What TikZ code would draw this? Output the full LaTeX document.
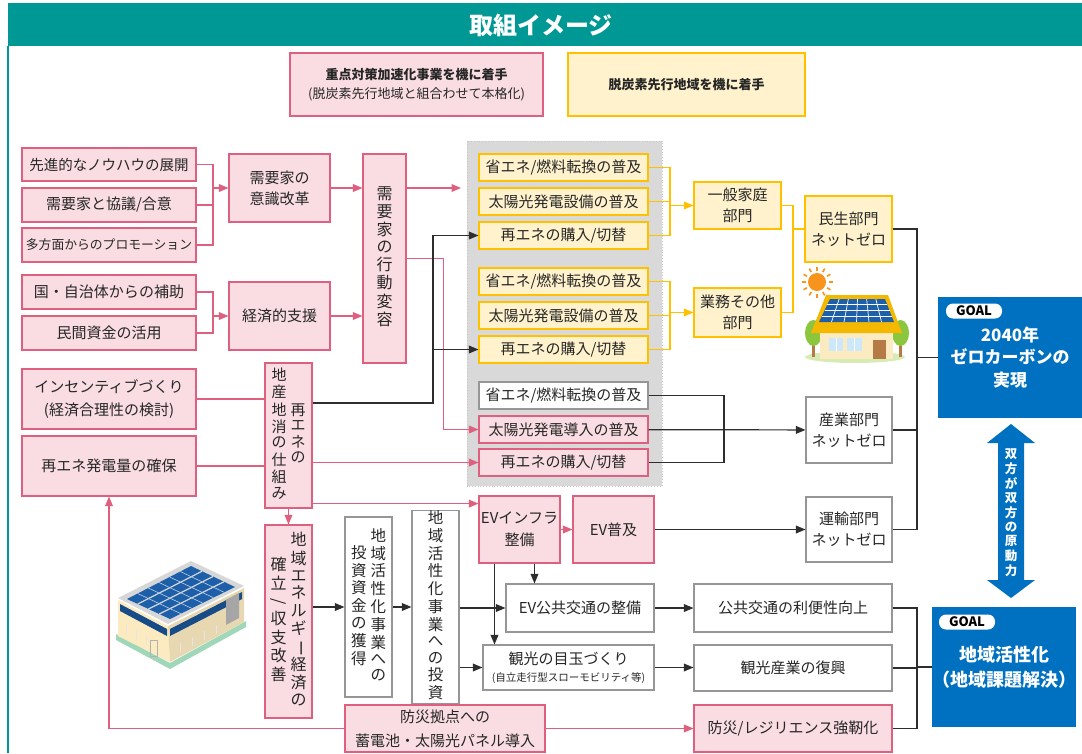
\documentclass[tikz,border=0pt]{standalone}
\usepackage{fontspec}
\setmainfont{Noto Sans CJK JP}
\usetikzlibrary{arrows,calc}

\definecolor{kteal}{RGB}{0,152,148}
\definecolor{kpink}{RGB}{222,96,126}
\definecolor{kpinkfill}{RGB}{249,221,226}
\definecolor{kyel}{RGB}{255,192,0}
\definecolor{kyelfill}{RGB}{255,242,204}
\definecolor{kpanel}{RGB}{217,217,217}
\definecolor{kblue}{RGB}{0,112,192}
\definecolor{kgray}{RGB}{150,150,150}
\definecolor{ktext}{RGB}{38,38,38}
\definecolor{kline}{RGB}{45,45,45}
% house and building
\definecolor{ksun}{RGB}{247,148,29}
\definecolor{kroof}{RGB}{245,184,0}
\definecolor{kpv}{RGB}{30,95,170}
\definecolor{kwall}{RGB}{252,235,192}
\definecolor{kwin}{RGB}{205,232,248}
\definecolor{kdoor}{RGB}{181,122,69}
\definecolor{ktree}{RGB}{140,198,63}
\definecolor{kgrass}{RGB}{215,236,180}
\definecolor{kslab}{RGB}{215,215,215}
\definecolor{kbase}{RGB}{160,215,185}

\newcommand{\bodyfont}{\fontsize{15}{21}\selectfont}
% one column of upright characters
\newcommand{\tate}[1]{\begin{tabular}[c]{@{}c@{}}#1\end{tabular}}
\newcommand{\tatebar}{\rotatebox[origin=c]{-90}{ー}}
\newcommand{\tateslash}{\rotatebox[origin=c]{-90}{/}}

\begin{document}
\begin{tikzpicture}[x=1pt,y=-1pt,>=triangle 45,
  box/.style={rectangle,inner sep=0pt,align=center,text=ktext,font=\bodyfont,line width=1.2pt},
  pbox/.style={box,draw=kpink,fill=kpinkfill},
  ybox/.style={box,draw=kyel,fill=kyelfill},
  wbox/.style={box,draw=kgray,fill=white},
  wh/.style 2 args={minimum width=#1,minimum height=#2},
  plink/.style={draw=kpink,line width=1.2pt},
  ylink/.style={draw=kyel,line width=1.2pt},
  blink/.style={draw=kline,line width=1.2pt},
  goal/.style={rectangle,fill=kblue,text=white,align=center,inner sep=0pt,
    font=\fontsize{17}{22.5}\selectfont\bfseries},
  pill/.style={fill=white,rounded corners=7pt,minimum width=56,minimum height=15,
    inner sep=0pt,text=black,font=\fontsize{13}{13}\selectfont\bfseries}]
\useasboundingbox (0,0) rectangle (1082,753);

% frame and title
\fill[kteal] (8,3) rectangle (1082,46);
\draw[kteal,line width=2pt] (8,46) -- (8,753);
\node[text=white,font=\fontsize{24}{24}\selectfont\bfseries] (title) at (541,25) {取組イメージ};

\node[pbox,wh={253}{63},line width=2pt,font=\fontsize{13}{19}\selectfont] (legpink) at (416.5,84.5)
  {\textbf{重点対策加速化事業を機に着手}\\(脱炭素先行地域と組合わせて本格化)};
\node[ybox,wh={237}{63},line width=2pt,font=\fontsize{13}{19}\selectfont\bfseries] (legyel) at (686.5,84.5)
  {脱炭素先行地域を機に着手};

% grey panel behind the measures
\fill[kpanel] (467,141) rectangle (662,486);
\draw[gray!45,dotted,line width=0.8pt] (467,141) rectangle (662,486);

% left column
\node[pbox,wh={174}{33},font=\fontsize{14.5}{20}\selectfont] (kn1) at (109,164.5) {先進的なノウハウの展開};
\node[pbox,wh={174}{34}] (kn2) at (109,205) {需要家と協議/合意};
\node[pbox,wh={174}{34},font=\fontsize{12.8}{18}\selectfont] (kn3) at (109,245) {多方面からのプロモーション};
\node[pbox,wh={174}{34}] (kn4) at (109,292) {国・自治体からの補助};
\node[pbox,wh={174}{34}] (kn5) at (109,333) {民間資金の活用};
\node[pbox,wh={174}{60},font=\fontsize{15}{23}\selectfont] (kn6) at (109,399) {インセンティブづくり\\(経済合理性の検討)};
\node[pbox,wh={174}{60}] (kn7) at (109,466) {再エネ発電量の確保};

\node[pbox,wh={101}{68}] (ishiki) at (279.5,188) {需要家の\\意識改革};
\node[pbox,wh={101}{68}] (keizai) at (279.5,316) {経済的支援};
\node[pbox,wh={43}{209},font=\fontsize{16}{16.5}\selectfont] (koudou) at (384.5,258.5)
  {\tate{需\\要\\家\\の\\行\\動\\変\\容}};

\node[pbox,wh={47}{145},font=\fontsize{15}{15.6}\selectfont] (chisan) at (288.5,435.5)
  {\tate{地\\産\\地\\消\\の\\仕\\組\\み}\hspace{4pt}\tate{再\\エ\\ネ\\の}};
\node[pbox,wh={47}{193},font=\fontsize{16}{17}\selectfont] (chiiki) at (288.5,621.5)
  {\tate{確\\立\\\tateslash\\収\\支\\改\\善}\hspace{4pt}\tate{地\\域\\エ\\ネ\\ル\\ギ\\\tatebar\\経\\済\\の}};
\node[wbox,wh={47}{180},font=\fontsize{15.5}{16.3}\selectfont] (toushi1) at (368.5,607)
  {\tate{投\\資\\資\\金\\の\\獲\\得}\hspace{4pt}\tate{地\\域\\活\\性\\化\\事\\業\\へ\\の}};
\node[wbox,wh={47}{180},font=\fontsize{15.5}{16.3}\selectfont] (toushi2) at (435.5,607)
  {\tate{地\\域\\活\\性\\化\\事\\業\\へ\\の\\投\\資}};

% measures in the panel
\node[ybox,wh={169}{27}] (y1a) at (563.5,167.5) {省エネ/燃料転換の普及};
\node[ybox,wh={169}{27}] (y1b) at (563.5,201.5) {太陽光発電設備の普及};
\node[ybox,wh={169}{27}] (y1c) at (563.5,235.5) {再エネの購入/切替};
\node[ybox,wh={169}{27}] (y2a) at (563.5,281.5) {省エネ/燃料転換の普及};
\node[ybox,wh={169}{27}] (y2b) at (563.5,315.5) {太陽光発電設備の普及};
\node[ybox,wh={169}{27}] (y2c) at (563.5,349.5) {再エネの購入/切替};
\node[wbox,wh={169}{27}] (g3a) at (563.5,395.5) {省エネ/燃料転換の普及};
\node[pbox,wh={169}{27}] (g3b) at (563.5,429.5) {太陽光発電導入の普及};
\node[pbox,wh={169}{27}] (g3c) at (563.5,462.5) {再エネの購入/切替};

\node[ybox,wh={87}{47}] (ippan) at (737.5,205.5) {一般家庭\\部門};
\node[ybox,wh={87}{49}] (gyomu) at (737.5,312.5) {業務その他\\部門};
\node[ybox,wh={87}{66}] (minsei) at (848.5,229) {民生部門\\ネットゼロ};
\node[wbox,wh={86}{66}] (sangyo) at (849,430) {産業部門\\ネットゼロ};
\node[wbox,wh={86}{65}] (unyu) at (849,529.5) {運輸部門\\ネットゼロ};

% lower half
\node[pbox,wh={81}{67},font=\fontsize{15}{22}\selectfont] (evinfra) at (519.5,529.5) {EVインフラ\\整備};
\node[pbox,wh={81}{67}] (evfukyu) at (613.5,529.5) {EV普及};
\node[wbox,wh={148}{48}] (evbus) at (580,608) {EV公共交通の整備};
\node[wbox,wh={171}{45},font=\fontsize{15}{17}\selectfont] (kankou) at (568.5,667.5)
  {観光の目玉づくり\\{\fontsize{10.5}{12}\selectfont(自立走行型スローモビリティ等)}};
\node[wbox,wh={198}{48}] (koukyou) at (793,608) {公共交通の利便性向上};
\node[wbox,wh={198}{46}] (kankou2) at (793,668) {観光産業の復興};
\node[pbox,wh={200}{47},font=\fontsize{15}{24}\selectfont] (bousai1) at (445,728.5) {防災拠点への\\蓄電池・太陽光パネル導入};
\node[pbox,wh={198}{47}] (bousai2) at (793,728.5) {防災/レジリエンス強靭化};

% goals
\node[goal,wh={144}{121}] (goal1) at (1010,357.5) {2040年\\ゼロカーボンの\\実現};
\node[pill] (goaltag1) at (974,311) {GOAL};
\node[goal,wh={142}{120},font=\fontsize{18}{25}\selectfont\bfseries] (goal2) at (1004,667) {地域活性化\\（地域課題解決）};
\node[pill] (goaltag2) at (967,622) {GOAL};
\fill[kblue] (1011,424) -- (1035,443) -- (1024,443) -- (1024,580) -- (1035,580) -- (1011,598)
  -- (987,580) -- (998,580) -- (998,443) -- (987,443) -- cycle;
\node[text=white,font=\fontsize{12.5}{14}\selectfont\bfseries] (mutual) at (1011,514)
  {\tate{双\\方\\が\\双\\方\\の\\原\\動\\力}};

% connectors: awareness and support
\coordinate (ja) at (213,188);
\draw[plink] (kn1) -| (ja) |- (kn3);
\draw[plink] (kn2) -- (kn2 -| ja);
\draw[plink,->] (ja) -- (ishiki);
\coordinate (jb) at (213,316);
\draw[plink] (kn4) -| (jb) |- (kn5);
\draw[plink,->] (jb) -- (keizai);
\draw[plink,->] (ishiki) -- (ishiki -| koudou.west);
\draw[plink,->] (keizai) -- (keizai -| koudou.west);
\coordinate (gin) at (461,188);
\draw[plink,->] (koudou.east |- gin) -- (gin);
\draw[plink,->] (koudou.east) -- ++(37,0) |- (g3b);

% connectors: local renewables
\draw[plink] (kn6) -- (kn6 -| chisan.west);
\draw[plink] (kn7) -- (kn7 -| chisan.west);
\coordinate (jc) at (433,403);
\draw[blink,->] (chisan.east |- jc) -- (jc) |- (y1c);
\draw[blink,->] (jc |- y2c) -- (y2c);
\draw[plink,->] (chisan.east |- g3c) -- (g3c);
\coordinate (jd) at ([yshift=5pt]chisan.south east);
\draw[plink,->] (jd) -- (jd -| evinfra.west);
\draw[plink,->] (chisan) -- (chiiki);

% connectors: sectors
\coordinate (ye1) at (670,205.5);
\draw[ylink] (y1a) -| (ye1) |- (y1c);
\draw[ylink] (y1b) -- (y1b -| ye1);
\draw[ylink,->] (ye1) -- (ippan);
\coordinate (ye2) at (670,312.5);
\draw[ylink] (y2a) -| (ye2) |- (y2c);
\draw[ylink] (y2b) -- (y2b -| ye2);
\draw[ylink,->] (ye2) -- (gyomu);
\coordinate (ye3) at (793,229);
\draw[ylink] (ippan) -| (ye3) |- (gyomu);
\draw[ylink] (ye3) -- (minsei);
\coordinate (jg) at (724,429.5);
\draw[blink] (g3a) -| (jg) |- (g3c);
\draw[blink,->] (g3b) -- (sangyo);
\coordinate (jr1) at (917,357.5);
\draw[blink] (minsei) -| (jr1) |- (unyu);
\draw[blink] (sangyo) -- (sangyo -| jr1);
\draw[blink] (jr1) -- (goal1);

% connectors: regional economy
\draw[plink,->] (evinfra) -- (evfukyu);
\draw[blink,->] (evfukyu) -- (evfukyu -| unyu.west);
\coordinate (je1) at ([xshift=-25pt]evinfra.south);
\draw[blink,->] (je1) -- (je1 |- kankou.north);
\coordinate (je2) at ([xshift=15pt]evinfra.south);
\draw[blink,->] (je2) -- (je2 |- evbus.north);
\draw[blink,->] (chiiki.east |- toushi1) -- (toushi1);
\draw[blink,->] (toushi1) -- (toushi2);
\draw[blink,->] (toushi2.east |- evbus) -- (evbus);
\draw[blink,->] (toushi2.east |- kankou) -- (kankou);
\draw[blink,->] (evbus) -- (koukyou);
\draw[blink,->] (kankou) -- (kankou -| kankou2.west);
\draw[plink,->] (bousai1) -- (bousai2);
\draw[plink,->] (bousai1) -| (kn7);
\coordinate (jr2) at (917,667);
\draw[blink] (koukyou) -| (jr2) |- (bousai2);
\draw[blink] (kankou2) -- (kankou2 -| jr2);
\draw[blink] (jr2) -- (goal2);

% house with solar roof
\coordinate (sun) at (817,282);
\fill[ksun] (sun) circle (9);
\foreach \a in {0,30,...,330}
  \draw[ksun,line width=1.6pt] ($(sun)+(\a:11.5)$) -- ($(sun)+(\a:15.5)$);
\fill[kgrass] (855,357) ellipse [x radius=50, y radius=6];
\fill[kdoor] (812,340) rectangle (815,357);
\fill[kdoor] (899,340) rectangle (902,357);
\fill[ktree] (813.5,333) ellipse [x radius=8.5, y radius=13];
\fill[ktree] (900.5,333) ellipse [x radius=8.5, y radius=13];
\fill[kwall] (820,330) rectangle (893,359);
\fill[kwin] (829,338) rectangle (843,351);
\fill[kwin] (847,338) rectangle (862,351);
\draw[white,line width=0.8pt] (836,338) -- (836,351) (854.5,338) -- (854.5,351);
\fill[kdoor] (873,340) rectangle (886,359);
\fill[kroof] (826,295) -- (888,295) -- (902,333) -- (811,333) -- cycle;
\coordinate (pvtl) at (830,299);
\coordinate (pvtr) at (885,299);
\coordinate (pvbl) at (819,322);
\coordinate (pvbr) at (894,322);
\fill[kpv] (pvtl) -- (pvtr) -- (pvbr) -- (pvbl) -- cycle;
\foreach \t in {0.25,0.5,0.75}
  \draw[white,line width=0.7pt] ($(pvtl)!\t!(pvbl)$) -- ($(pvtr)!\t!(pvbr)$);
\foreach \s in {1,...,5}
  \draw[white,line width=0.7pt] ($(pvtl)!\s/6!(pvtr)$) -- ($(pvbl)!\s/6!(pvbr)$);

% building with solar roof
\fill[kbase] (116,634) -- (170,663) -- (246,621) -- (246,627) -- (170,669) -- (116,640) -- cycle;
\fill[kwall] (118,600) -- (168,626) -- (170,662) -- (118,636) -- cycle;
\fill[kwall!92!black] (168,626) -- (244,588) -- (244,622) -- (170,662) -- cycle;
\fill[kpv!80!black] (120,604) -- (167,629) -- (167,636) -- (120,611) -- cycle;
\fill[kpv!80!black] (170,629) -- (242,592) -- (242,599) -- (170,636) -- cycle;
\fill[gray!70] (226,600) -- (239,593) -- (239,618) -- (226,625) -- cycle;
\draw[gray!60,line width=0.6pt] (150,640) rectangle (157,656);
\foreach \x in {126,136,146,180,192,204,216}
  \draw[white!80!gray,line width=0.6pt] (\x,{\x<170 ? 621+0.52*(\x-118) : 648-0.5*(\x-170)}) -- ++(0,9);
\fill[kslab] (118,598) -- (191,561) -- (244,586) -- (168,624) -- cycle;
\coordinate (pva) at (127,599);
\coordinate (pvb) at (191,566);
\coordinate (pvc) at (235,587);
\coordinate (pvd) at (170,619);
\fill[kpv] (pva) -- (pvb) -- (pvc) -- (pvd) -- cycle;
\foreach \t in {0.25,0.5,0.75}
  \draw[kslab,line width=1.2pt] ($(pva)!\t!(pvd)$) -- ($(pvb)!\t!(pvc)$);
\foreach \s in {1,...,5}
  \draw[white!70!kpv,line width=0.6pt] ($(pva)!\s/6!(pvb)$) -- ($(pvd)!\s/6!(pvc)$);
\end{tikzpicture}
\end{document}
